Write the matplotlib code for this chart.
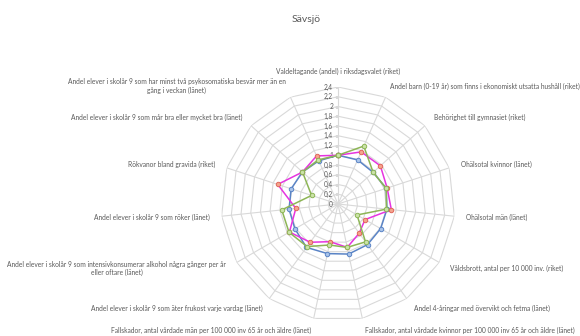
import numpy as np
import matplotlib
matplotlib.use("Agg")
import matplotlib.pyplot as plt
from matplotlib.transforms import ScaledTranslation

plt.rcParams['font.family'] = ['Lato', 'DejaVu Sans']

title = "Sävsjö"

categories = [
    "Valdeltagande (andel) i riksdagsvalet (riket)",
    "Andel barn (0-19 år) som finns i ekonomiskt utsatta hushåll (riket)",
    "Behörighet till gymnasiet (riket)",
    "Ohälsotal kvinnor (länet)",
    "Ohälsotal män (länet)",
    "Våldsbrott, antal per 10 000 inv. (riket)",
    "Andel 4-åringar med övervikt och fetma (länet)",
    "Fallskador, antal vårdade kvinnor per 100 000 inv 65 år och äldre (länet)",
    "Fallskador, antal vårdade män per 100 000 inv 65 år och äldre (länet)",
    "Andel elever i skolår 9 som äter frukost varje vardag (länet)",
    "Andel elever i skolår 9 som intensivkonsumerar alkohol några gånger per år\neller oftare (länet)",
    "Andel elever i skolår 9 som röker (länet)",
    "Rökvanor bland gravida (riket)",
    "Andel elever i skolår 9 som mår bra eller mycket bra (länet)",
    "Andel elever i skolår 9 som har minst två psykosomatiska besvär mer än en\ngång i veckan (länet)",
]

series_blue = [1.00, 0.99, 0.97, 1.04, 1.01, 1.01, 1.03, 1.05, 1.04, 1.10, 1.02, 1.01, 1.01, 0.98, 0.97]
series_magenta = [1.00, 1.17, 1.17, 1.06, 1.10, 0.64, 0.74, 0.91, 0.79, 0.97, 1.15, 0.87, 1.30, 0.98, 1.08]
series_green = [1.00, 1.30, 0.97, 1.04, 1.00, 0.45, 0.96, 0.91, 0.86, 1.08, 1.16, 1.16, 0.57, 0.98, 0.99]

tick_values = [0, 0.2, 0.4, 0.6, 0.8, 1.0, 1.2, 1.4, 1.6, 1.8, 2.0, 2.2, 2.4]
tick_labels = ["0", "0,2", "0,4", "0,6", "0,8", "1", "1,2", "1,4", "1,6", "1,8", "2", "2,2", "2,4"]

W, H = 580, 336
fig = plt.figure(figsize=(W / 100, H / 100), dpi=100)
cx, cy, R = 338, 204, 117
ax = fig.add_axes([(cx - R) / W, (H - cy - R) / H, 2 * R / W, 2 * R / H], projection='polar')
ax.set_theta_zero_location('N')
ax.set_theta_direction(-1)
rmax = tick_values[-1]
ax.set_ylim(0, rmax)
ax.set_xticks([])
ax.set_yticks([])
ax.grid(False)
ax.spines['polar'].set_visible(False)
ax.patch.set_alpha(0)

n = len(categories)
theta = np.arange(n) * 2 * np.pi / n
theta_closed = np.append(theta, theta[0])

grid_color = "#D9D9D9"
text_color = "#595959"

# polygon web
for v in tick_values[1:]:
    ax.plot(theta_closed, [v] * (n + 1), color=grid_color, lw=0.8, zorder=1)
for t in theta:
    ax.plot([t, t], [0, rmax], color=grid_color, lw=0.8, zorder=1)

# value axis labels along the top spoke
shift = ax.transData + ScaledTranslation(-5 / 100, 0, fig.dpi_scale_trans)
for v, lab in zip(tick_values, tick_labels):
    ax.text(0, v, lab, transform=shift, ha='right', va='center',
            fontsize=4.7, color=text_color)
    ax.plot([0, 0], [v, v], marker=0, markersize=2.5, color=grid_color,
            markeredgewidth=0.8, zorder=1)

# category labels
label_r = rmax * (129 / 117)
for t, lab in zip(theta, categories):
    s, c = np.sin(t), np.cos(t)
    if abs(s) < 0.1:
        ha = 'center'
    elif s > 0:
        ha = 'left'
    else:
        ha = 'right'
    va = 'center'
    if abs(s) < 0.1 and c > 0:
        va = 'bottom'
    ax.text(t, label_r, lab, ha=ha, va=va, fontsize=4.8, color=text_color,
            multialignment='center', clip_on=False)

styles = [
    (series_blue, "#5A84C6", "#A9C4EA", "#5A84C6"),
    (series_magenta, "#E634E0", "#F4A58E", "#E0655A"),
    (series_green, "#8DB556", "#CBE3A8", "#8DB556"),
]
for vals, lc, mfc, mec in styles:
    ax.plot(theta_closed, list(vals) + [vals[0]], color=lc, lw=1.1,
            marker='o', markersize=3.2, markerfacecolor=mfc,
            markeredgecolor=mec, markeredgewidth=0.7, zorder=3)

fig.text(306 / W, 1 - 20 / H, title, ha='center', va='center',
         fontsize=7.5, color=text_color)

fig.savefig("out.png", dpi=100, facecolor="white")
